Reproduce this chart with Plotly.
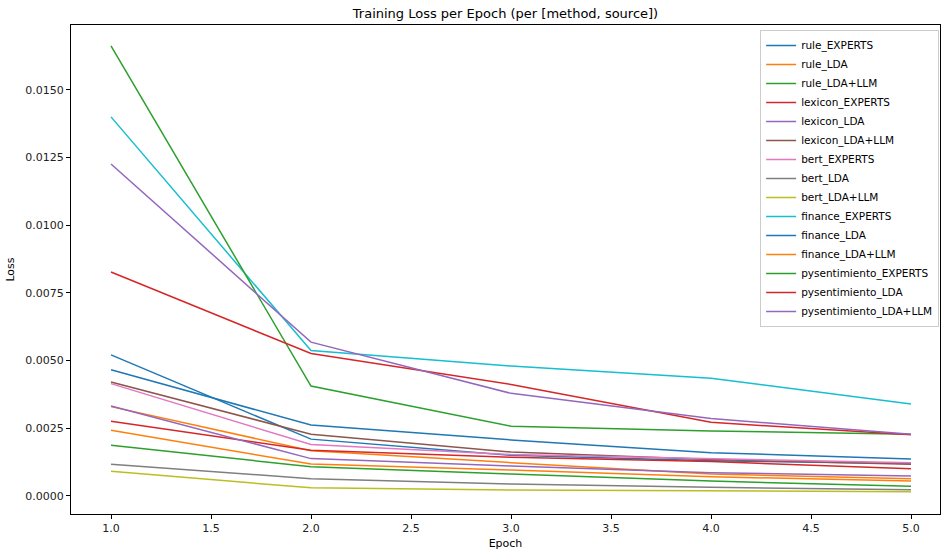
import plotly.graph_objects as go

epochs = [1, 2, 3, 4, 5]

series_names = [
    "rule_EXPERTS", "rule_LDA", "rule_LDA+LLM",
    "lexicon_EXPERTS", "lexicon_LDA", "lexicon_LDA+LLM",
    "bert_EXPERTS", "bert_LDA", "bert_LDA+LLM",
    "finance_EXPERTS", "finance_LDA", "finance_LDA+LLM",
    "pysentimiento_EXPERTS", "pysentimiento_LDA", "pysentimiento_LDA+LLM",
]

rule_EXPERTS = [0.00521, 0.00210, 0.00150, 0.00130, 0.00120]
rule_LDA = [0.00330, 0.00167, 0.00123, 0.00081, 0.00064]
rule_LDA_LLM = [0.00187, 0.00108, 0.00081, 0.00055, 0.00036]
lexicon_EXPERTS = [0.00276, 0.00169, 0.00143, 0.00127, 0.00101]
lexicon_LDA = [0.00332, 0.00138, 0.00111, 0.00086, 0.00074]
lexicon_LDA_LLM = [0.00421, 0.00228, 0.00162, 0.00135, 0.00117]
bert_EXPERTS = [0.00415, 0.00190, 0.00153, 0.00139, 0.00123]
bert_LDA = [0.00117, 0.00064, 0.00044, 0.00032, 0.00023]
bert_LDA_LLM = [0.00091, 0.00030, 0.00022, 0.00020, 0.00016]
finance_EXPERTS = [0.01400, 0.00537, 0.00480, 0.00435, 0.00340]
finance_LDA = [0.00466, 0.00262, 0.00207, 0.00160, 0.00137]
finance_LDA_LLM = [0.00243, 0.00118, 0.00096, 0.00071, 0.00055]
pysentimiento_EXPERTS = [0.01662, 0.00406, 0.00258, 0.00240, 0.00228]
pysentimiento_LDA = [0.00827, 0.00526, 0.00412, 0.00272, 0.00226]
pysentimiento_LDA_LLM = [0.01226, 0.00568, 0.00379, 0.00286, 0.00228]

series_values = [
    rule_EXPERTS, rule_LDA, rule_LDA_LLM,
    lexicon_EXPERTS, lexicon_LDA, lexicon_LDA_LLM,
    bert_EXPERTS, bert_LDA, bert_LDA_LLM,
    finance_EXPERTS, finance_LDA, finance_LDA_LLM,
    pysentimiento_EXPERTS, pysentimiento_LDA, pysentimiento_LDA_LLM,
]

tab10 = ["#1f77b4", "#ff7f0e", "#2ca02c", "#d62728", "#9467bd",
         "#8c564b", "#e377c2", "#7f7f7f", "#bcbd22", "#17becf"]

fig = go.Figure()
for i, (name, vals) in enumerate(zip(series_names, series_values)):
    fig.add_trace(go.Scatter(
        x=epochs, y=vals, mode="lines", name=name,
        line=dict(color=tab10[i % 10], width=1.5),
    ))

font_family = "DejaVu Sans, sans-serif"
fig.update_layout(
    width=941, height=550,
    margin=dict(l=71, r=1, t=25, b=36),
    paper_bgcolor="white", plot_bgcolor="white",
    font=dict(family=font_family, size=11, color="#222"),
    title=dict(text="Training Loss per Epoch (per [method, source])",
               x=(71 + 940) / 2 / 941, xanchor="center", y=1 - 13 / 550, yanchor="middle",
               font=dict(size=13, color="black")),
    showlegend=True,
    legend=dict(x=0.999, xanchor="right", y=0.99, yanchor="top",
                bgcolor="rgba(255,255,255,0.8)", bordercolor="#cccccc", borderwidth=1,
                font=dict(size=10.5, color="black"), tracegroupgap=0, itemwidth=30),
)
fig.update_xaxes(
    range=[0.8, 5.145], tickvals=[1.0, 1.5, 2.0, 2.5, 3.0, 3.5, 4.0, 4.5, 5.0],
    ticktext=["1.0", "1.5", "2.0", "2.5", "3.0", "3.5", "4.0", "4.5", "5.0"],
    showgrid=False, zeroline=False, showline=True, linecolor="black", linewidth=1,
    mirror=True, ticks="outside", ticklen=4, tickcolor="black",
    title=dict(text="Epoch", standoff=6, font=dict(size=11, color="black")),
)
fig.update_yaxes(
    range=[-0.000665, 0.017393],
    tickvals=[0.0, 0.0025, 0.005, 0.0075, 0.01, 0.0125, 0.015],
    ticktext=["0.0000", "0.0025", "0.0050", "0.0075", "0.0100", "0.0125", "0.0150"],
    showgrid=False, zeroline=False, showline=True, linecolor="black", linewidth=1,
    mirror=True, ticks="outside", ticklen=4, tickcolor="black",
    title=dict(text="Loss", standoff=8, font=dict(size=11, color="black")),
)

fig.write_html("out.html")
